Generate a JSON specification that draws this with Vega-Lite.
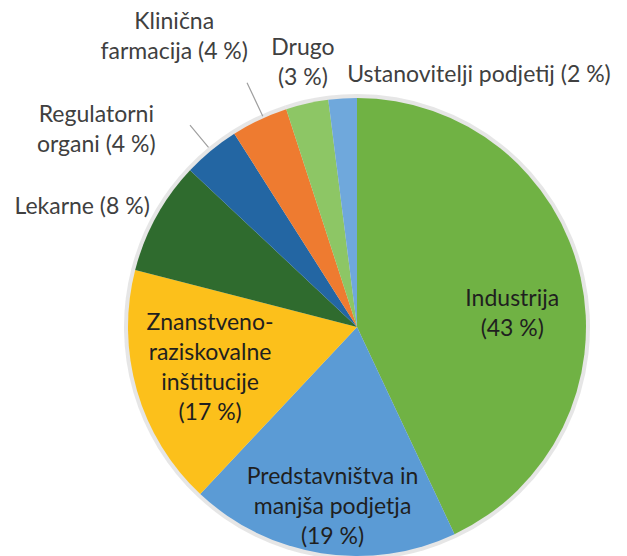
{
  "$schema": "https://vega.github.io/schema/vega-lite/v6.json",
  "width": 540,
  "height": 458,
  "autosize": {"type": "none"},
  "padding": {"left": 87, "top": 98, "right": 0, "bottom": 0},
  "background": "white",
  "config": {"view": {"stroke": null}},
  "data": {
    "values": [
      {"ord": 1, "key": "ind", "label": "Industrija\n(43 %)", "value": 43},
      {"ord": 2, "key": "pre", "label": "Predstavništva in\nmanjša podjetja\n(19 %)", "value": 19},
      {"ord": 3, "key": "zna", "label": "Znanstveno-\nraziskovalne\ninštitucije\n(17 %)", "value": 17},
      {"ord": 4, "key": "lek", "label": "Lekarne (8 %)", "value": 8},
      {"ord": 5, "key": "reg", "label": "Regulatorni\norgani (4 %)", "value": 4},
      {"ord": 6, "key": "kli", "label": "Klinična\nfarmacija (4 %)", "value": 4},
      {"ord": 7, "key": "dru", "label": "Drugo\n(3 %)", "value": 3},
      {"ord": 8, "key": "ust", "label": "Ustanovitelji podjetij (2 %)", "value": 2}
    ]
  },
  "encoding": {
    "theta": {"field": "value", "type": "quantitative", "stack": true},
    "order": {"field": "ord", "type": "quantitative"}
  },
  "layer": [
    {
      "mark": {"type": "arc", "outerRadius": 233, "fill": "#c8c8c8", "opacity": 0.45},
      "encoding": {}
    },
    {
      "mark": {"type": "arc", "outerRadius": 229},
      "encoding": {
        "color": {
          "field": "key",
          "type": "nominal",
          "scale": {
            "domain": ["ind", "pre", "zna", "lek", "reg", "kli", "dru", "ust"],
            "range": ["#70b244", "#5b9bd5", "#fcc01b", "#2f6b2e", "#2366a3", "#ee7b30", "#8dc665", "#6fa8dc"]
          },
          "legend": null
        }
      }
    },
    {
      "mark": {"type": "arc", "innerRadius": 233, "outerRadius": 270, "padAngle": 0.6, "fillOpacity": 0, "stroke": "#a0a0a0", "strokeWidth": 1.2, "xOffset": 5},
      "encoding": {
        "strokeOpacity": {"condition": {"test": "datum.key === 'kli'", "value": 1}, "value": 0}
      }
    },
    {
      "mark": {"type": "arc", "innerRadius": 233, "outerRadius": 262, "padAngle": 0.6, "fillOpacity": 0, "stroke": "#a0a0a0", "strokeWidth": 1.2},
      "encoding": {
        "strokeOpacity": {"condition": {"test": "datum.key === 'reg'", "value": 1}, "value": 0}
      }
    },
    {
      "mark": {"type": "text", "font": "Lato", "fontSize": 23, "lineHeight": 30, "lineBreak": "\n", "color": "#1f1f1f", "radius": 155, "dx": 4, "dy": 6},
      "encoding": {"text": {"condition": {"test": "datum.key === 'ind'", "field": "label"}, "value": ""}}
    },
    {
      "mark": {"type": "text", "font": "Lato", "fontSize": 23, "lineHeight": 30, "lineBreak": "\n", "color": "#1f1f1f", "radius": 182, "dx": 4, "dy": -30},
      "encoding": {"text": {"condition": {"test": "datum.key === 'pre'", "field": "label"}, "value": ""}}
    },
    {
      "mark": {"type": "text", "font": "Lato", "fontSize": 23, "lineHeight": 30, "lineBreak": "\n", "color": "#1f1f1f", "radius": 153, "dx": 0, "dy": -47},
      "encoding": {"text": {"condition": {"test": "datum.key === 'zna'", "field": "label"}, "value": ""}}
    },
    {
      "mark": {"type": "text", "font": "Lato", "fontSize": 23, "lineHeight": 30, "lineBreak": "\n", "color": "#404040", "radius": 300, "dx": -12, "dy": 25},
      "encoding": {"text": {"condition": {"test": "datum.key === 'lek'", "field": "label"}, "value": ""}}
    },
    {
      "mark": {"type": "text", "font": "Lato", "fontSize": 23, "lineHeight": 30, "lineBreak": "\n", "color": "#404040", "radius": 318, "dx": -58, "dy": 33},
      "encoding": {"text": {"condition": {"test": "datum.key === 'reg'", "field": "label"}, "value": ""}}
    },
    {
      "mark": {"type": "text", "font": "Lato", "fontSize": 23, "lineHeight": 30, "lineBreak": "\n", "color": "#404040", "radius": 340, "dx": -38, "dy": 3},
      "encoding": {"text": {"condition": {"test": "datum.key === 'kli'", "field": "label"}, "value": ""}}
    },
    {
      "mark": {"type": "text", "font": "Lato", "fontSize": 23, "lineHeight": 30, "lineBreak": "\n", "color": "#404040", "radius": 271, "dx": 5, "dy": -15},
      "encoding": {"text": {"condition": {"test": "datum.key === 'dru'", "field": "label"}, "value": ""}}
    },
    {
      "mark": {"type": "text", "font": "Lato", "fontSize": 23, "lineHeight": 30, "lineBreak": "\n", "color": "#404040", "align": "left", "radius": 252, "dx": 6, "dy": 0},
      "encoding": {"text": {"condition": {"test": "datum.key === 'ust'", "field": "label"}, "value": ""}}
    }
  ]
}
